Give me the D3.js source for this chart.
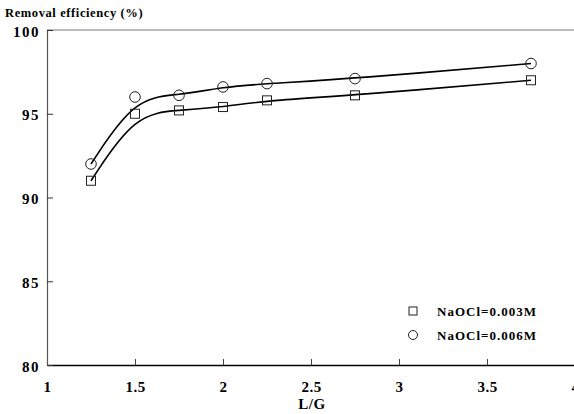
<!DOCTYPE html>
<html>
<head>
<meta charset="utf-8">
<script src="https://cdn.jsdelivr.net/npm/d3@7"></script>
<style>
  body { margin: 0; background: #fff; }
  text { font-family: "Liberation Serif", "DejaVu Serif", serif; font-weight: bold; fill: #000; }
</style>
</head>
<body>
<div id="chart"></div>
<script>
var lg = [1.25, 1.5, 1.75, 2.0, 2.25, 2.75, 3.75];
var eff_003 = [91.0, 95.0, 95.2, 95.4, 95.8, 96.1, 97.0];
var eff_006 = [92.0, 96.0, 96.1, 96.6, 96.8, 97.1, 98.0];
var x_ticks = [1, 1.5, 2, 2.5, 3, 3.5, 4];
var y_ticks = [80, 85, 90, 95, 100];
var series_names = ['NaOCl=0.003M', 'NaOCl=0.006M'];

var width = 574, height = 414;

var svg = d3.select('#chart').append('svg')
    .attr('width', width)
    .attr('height', height);

var x = d3.scaleLinear().domain([1, 4]).range([47, 575]);
var y = d3.scaleLinear().domain([80, 100]).range([365, 30]);

// frame top line
svg.append('line')
    .attr('x1', x(1)).attr('x2', width)
    .attr('y1', y(100)).attr('y2', y(100))
    .attr('stroke', '#777').attr('stroke-width', 1.2);

var xAxis = svg.append('g')
    .attr('transform', 'translate(0,' + y(80) + ')')
    .call(d3.axisBottom(x).tickValues(x_ticks).tickSizeInner(-6).tickSizeOuter(0).tickPadding(16)
      .tickFormat(function(d) { return d; }));
xAxis.select('.domain').attr('stroke', '#000').attr('stroke-width', 1.5);
xAxis.selectAll('.tick line').attr('stroke', '#444');
xAxis.selectAll('text').style('font-size', '15px').style('letter-spacing', '0.5px');

var yAxis = svg.append('g')
    .attr('transform', 'translate(' + x(1) + ',0)')
    .call(d3.axisLeft(y).tickValues(y_ticks).tickSizeInner(-6).tickSizeOuter(0).tickPadding(7));
yAxis.select('.domain').attr('stroke', '#555').attr('stroke-width', 1.2);
yAxis.selectAll('.tick line').attr('stroke', '#333');
yAxis.selectAll('text').style('font-size', '15px').style('letter-spacing', '1.5px').attr('dy', '0.4em');

svg.append('text')
    .attr('x', 5).attr('y', 17)
    .style('font-size', '12.5px')
    .style('letter-spacing', '0.6px')
    .text('Removal efficiency (%)');

svg.append('text')
    .attr('x', 312).attr('y', 409)
    .attr('text-anchor', 'middle')
    .style('font-size', '15px')
    .style('letter-spacing', '0.5px')
    .text('L/G');

var line = d3.line().curve(d3.curveBasis)
    .x(function(d, i) { return x(lg[i]); })
    .y(function(d) { return y(d); });

[eff_003, eff_006].forEach(function(s) {
  svg.append('path')
      .attr('d', line(s))
      .attr('fill', 'none')
      .attr('stroke', '#000')
      .attr('stroke-width', 1.6);
});

svg.selectAll('.sq').data(eff_003).enter().append('rect')
    .attr('class', 'sq')
    .attr('x', function(d, i) { return x(lg[i]) - 4.5; })
    .attr('y', function(d) { return y(d) - 4.5; })
    .attr('width', 9).attr('height', 9)
    .attr('fill', 'none').attr('stroke', '#222').attr('stroke-width', 1);

svg.selectAll('.ci').data(eff_006).enter().append('circle')
    .attr('class', 'ci')
    .attr('cx', function(d, i) { return x(lg[i]); })
    .attr('cy', function(d) { return y(d); })
    .attr('r', 5.3)
    .attr('fill', 'none').attr('stroke', '#222').attr('stroke-width', 1);

// legend
var leg = svg.append('g');
leg.append('rect')
    .attr('x', 409).attr('y', 307).attr('width', 8).attr('height', 8)
    .attr('fill', 'none').attr('stroke', '#222');
leg.append('circle')
    .attr('cx', 413).attr('cy', 335).attr('r', 4.5)
    .attr('fill', 'none').attr('stroke', '#222');
leg.selectAll('.lt').data(series_names).enter().append('text')
    .attr('class', 'lt')
    .attr('x', 437)
    .attr('y', function(d, i) { return 316 + i * 24; })
    .style('font-size', '13px')
    .style('letter-spacing', '1px')
    .text(function(d) { return d; });
</script>
</body>
</html>
